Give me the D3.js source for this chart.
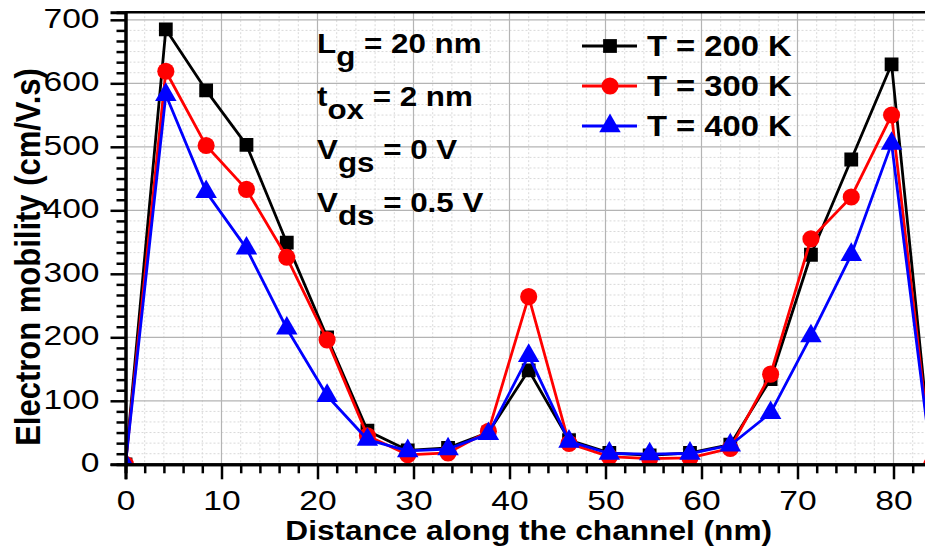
<!DOCTYPE html>
<html>
<head>
<meta charset="utf-8">
<script src="https://cdn.jsdelivr.net/npm/d3@7"></script>
<style>
  html, body { margin: 0; padding: 0; background: #fff; }
  svg { display: block; font-family: "Liberation Sans", Arial, sans-serif; }
</style>
</head>
<body>
<div id="chart"></div>
<script>
// distance along the channel (nm)
const distance = [0, 4.2, 8.4, 12.6, 16.8, 21, 25.2, 29.4, 33.6, 37.8, 42, 46.2, 50.4, 54.6, 58.8, 63, 67.2, 71.4, 75.6, 79.8, 84];

// electron mobility (cm/V.s)
const mobility200 = [0, 685, 589, 503, 349, 200, 53, 22, 26, 50, 148, 38, 18, 14, 18, 31, 134, 330, 480, 630, 0];
const mobility300 = [0, 619, 502, 433, 326, 196, 45, 15, 18, 52, 264, 33, 12, 9, 10, 25, 142, 355, 421, 550, 0];
const mobility400 = [0, 582, 429, 340, 214, 108, 39, 21, 24, 48, 171, 36, 17, 16, 17, 30, 81, 202, 330, 505, 0];

const seriesNames = ['T = 200 K', 'T = 300 K', 'T = 400 K'];
const xTicks = [0, 10, 20, 30, 40, 50, 60, 70, 80];
const yTicks = [0, 100, 200, 300, 400, 500, 600, 700];
const notes = [
  { main: 'L', sub: 'g', rest: ' = 20 nm' },
  { main: 't', sub: 'ox', rest: ' = 2 nm' },
  { main: 'V', sub: 'gs', rest: ' = 0 V' },
  { main: 'V', sub: 'ds', rest: ' = 0.5 V' }
];

const W = 925, H = 554;
const sx = 1.13;     // the original picture is a bit stretched sideways
const sxTick = 1.2;

const svg = d3.select('#chart').append('svg')
  .attr('width', W)
  .attr('height', H);

const x = d3.scaleLinear().domain([0, 84]).range([125.5, 931.9]);
const y = d3.scaleLinear().domain([0, 712]).range([464.3, 12.2]);

const plotL = x(0), plotR = x(84), plotT = y(712), plotB = y(0);

// grid
const minorX = d3.range(0, 85, 2).filter(v => v % 10 !== 0);
const minorY = d3.range(0, 712, 100 / 6).filter((v, i) => i % 6 !== 0);

const grid = svg.append('g');
grid.selectAll('.mgx').data(minorX).join('line')
  .attr('x1', d => x(d)).attr('x2', d => x(d))
  .attr('y1', plotT).attr('y2', plotB)
  .attr('stroke', '#d9d9d9').attr('stroke-width', 1).attr('stroke-dasharray', '2,2');
grid.selectAll('.mgy').data(minorY).join('line')
  .attr('x1', plotL).attr('x2', plotR)
  .attr('y1', d => y(d)).attr('y2', d => y(d))
  .attr('stroke', '#d9d9d9').attr('stroke-width', 1).attr('stroke-dasharray', '2,2');
grid.selectAll('.gx').data(xTicks).join('line')
  .attr('x1', d => x(d)).attr('x2', d => x(d))
  .attr('y1', plotT).attr('y2', plotB)
  .attr('stroke', '#b4b4b4').attr('stroke-width', 1.2);
grid.selectAll('.gy').data(yTicks).join('line')
  .attr('x1', plotL).attr('x2', plotR)
  .attr('y1', d => y(d)).attr('y2', d => y(d))
  .attr('stroke', '#b4b4b4').attr('stroke-width', 1.2);

// data
svg.append('clipPath').attr('id', 'plotClip')
  .append('rect')
  .attr('x', plotL).attr('y', plotT)
  .attr('width', plotR - plotL).attr('height', plotB - plotT);

const series = [
  { name: seriesNames[0], values: mobility200, color: '#000000', symbol: d3.symbolSquare, size: 190 },
  { name: seriesNames[1], values: mobility300, color: '#ff0000', symbol: d3.symbolCircle, size: 230 },
  { name: seriesNames[2], values: mobility400, color: '#0000ff', symbol: d3.symbolTriangle, size: 200 }
];

const line = d3.line()
  .x((d, i) => x(distance[i]))
  .y(d => y(d));

const plot = svg.append('g').attr('clip-path', 'url(#plotClip)');
series.forEach(s => {
  plot.append('path')
    .datum(s.values)
    .attr('fill', 'none')
    .attr('stroke', s.color)
    .attr('stroke-width', 2.8)
    .attr('stroke-linejoin', 'round')
    .attr('d', line);

  plot.selectAll(null)
    .data(s.values)
    .join('path')
    .attr('transform', (d, i) => `translate(${x(distance[i])},${y(d)})`)
    .attr('d', d3.symbol(s.symbol, s.size))
    .attr('fill', s.color);
});

// axes
const xAxis = svg.append('g')
  .attr('transform', `translate(0,${plotB})`)
  .call(d3.axisBottom(x).tickValues(xTicks).tickSize(15).tickPadding(11));
svg.append('g')
  .attr('transform', `translate(0,${plotB})`)
  .call(d3.axisBottom(x).tickValues(minorX).tickSize(9).tickFormat(''));

const yAxis = svg.append('g')
  .attr('transform', `translate(${plotL},0)`)
  .call(d3.axisLeft(y).tickValues(yTicks).tickSize(15));
svg.append('g')
  .attr('transform', `translate(${plotL},0)`)
  .call(d3.axisLeft(y).tickValues(minorY).tickSize(9).tickFormat(''));

svg.selectAll('.domain').attr('stroke', '#000').attr('stroke-width', 3);
svg.selectAll('.tick line').attr('stroke', '#000').attr('stroke-width', 2.5);

xAxis.selectAll('text')
  .attr('fill', '#000')
  .style('font-size', '28px')
  .attr('dy', '0.71em')
  .attr('transform', `scale(${sxTick},1)`);

yAxis.selectAll('text')
  .attr('fill', '#000')
  .style('font-size', '28px')
  .attr('x', -26 / sxTick)
  .attr('dy', '0.26em')
  .attr('transform', `scale(${sxTick},1)`);

// frame
svg.append('line')
  .attr('x1', plotL).attr('x2', plotR)
  .attr('y1', plotT).attr('y2', plotT)
  .attr('stroke', '#000').attr('stroke-width', 2.5);
svg.append('line')
  .attr('x1', plotR).attr('x2', plotR)
  .attr('y1', plotT).attr('y2', plotB)
  .attr('stroke', '#000').attr('stroke-width', 2.5);

// axis titles
svg.append('text')
  .attr('transform', `translate(${(plotL + plotR) / 2},540) scale(${sx},1)`)
  .attr('text-anchor', 'middle')
  .style('font-size', '28px')
  .style('font-weight', 'bold')
  .text('Distance along the channel (nm)');

svg.append('text')
  .attr('transform', `translate(40,257) scale(${sx},1) rotate(-90)`)
  .attr('text-anchor', 'middle')
  .style('font-size', '31px')
  .style('font-weight', 'bold')
  .text('Electron mobility (cm/V.s)');

// device parameters
const noteG = svg.append('g');
notes.forEach((n, i) => {
  const t = noteG.append('text')
    .attr('transform', `translate(317,${53 + i * 53}) scale(1.1,1)`)
    .style('font-size', '28.5px')
    .style('font-weight', 'bold');
  t.append('tspan').text(n.main);
  t.append('tspan').attr('dy', 13).text(n.sub);
  t.append('tspan').attr('dy', -13).text(n.rest);
});

// legend
const legend = svg.append('g');
series.forEach((s, i) => {
  const cy = 46 + i * 40;
  legend.append('line')
    .attr('x1', 582).attr('x2', 637)
    .attr('y1', cy).attr('y2', cy)
    .attr('stroke', s.color).attr('stroke-width', 3);
  legend.append('path')
    .attr('transform', `translate(610,${cy})`)
    .attr('d', d3.symbol(s.symbol, s.size))
    .attr('fill', s.color);
  legend.append('text')
    .attr('transform', `translate(647,${cy + 10}) scale(${sx},1)`)
    .style('font-size', '29px')
    .style('font-weight', 'bold')
    .text(s.name);
});
</script>
</body>
</html>
